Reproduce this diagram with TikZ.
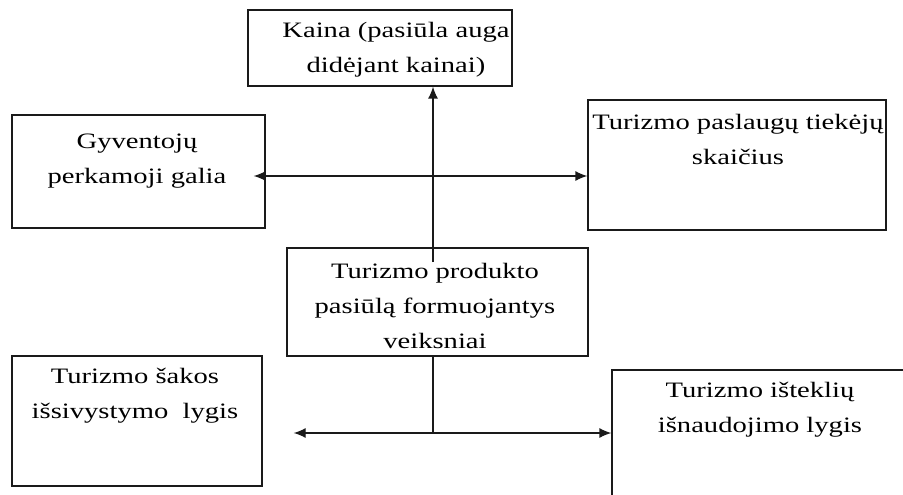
\documentclass[tikz,border=0pt]{standalone}
\usepackage{fontspec}
\usetikzlibrary{arrows.meta, positioning, calc}
\newfontfamily\boxfont[FakeStretch=1.3]{Liberation Serif}
\definecolor{Frame}{HTML}{1A1A1A}

\begin{document}
\begin{tikzpicture}[x=1pt, y=-1pt,
    box/.style={rectangle, draw=Frame, line width=1.3pt, fill=white, inner sep=0pt},
    txt/.style={align=center, anchor=base, inner sep=0pt, font=\boxfont\fontsize{22}{35}\selectfont},
    arrow/.style={-{Latex[length=12pt, width=10pt]}, line width=1.3pt, color=Frame},
    biarrow/.style={{Latex[length=12pt, width=10pt]}-{Latex[length=12pt, width=10pt]}, line width=1.3pt, color=Frame},
    plain/.style={line width=1.3pt, color=Frame}
  ]
  \useasboundingbox (0,0) rectangle (903,495);

  % Boxes
  \node[box, minimum width=264pt, minimum height=76pt] (kaina) at (380,48) {};
  \node[box, minimum width=253pt, minimum height=113pt] (gyv) at (138.5,171.5) {};
  \node[box, minimum width=298pt, minimum height=130pt] (tiek) at (737,165) {};
  \node[box, minimum width=250pt, minimum height=130pt] (sakos) at (137,421) {};
  \node[box, minimum width=308pt, minimum height=140pt] (ist) at (766,440) {};

  % Joints
  \coordinate (hub) at (433,176);
  \coordinate (junc) at (433,433);
  \coordinate (stem) at (433,262);

  % Connections
  \draw[arrow] (stem) -- (stem |- kaina.south);
  \draw[biarrow] ([xshift=-12pt]gyv.east |- hub) -- (tiek.west |- hub);

  % Central box
  \node[box, minimum width=301pt, minimum height=108pt, fill=none] (mid) at (437.5,302) {};
  \draw[plain] (mid.south -| junc) -- (junc);
  \draw[biarrow] ([xshift=31pt]sakos.east |- junc) -- (ist.west |- junc);

  % Texts (anchored on the last line)
  \node[txt] (kainaT) at (396,73) {Kaina (pasiūla auga\\didėjant kainai)};
  \node[txt] (gyvT) at (137,183) {Gyventojų\\perkamoji galia};
  \node[txt] (tiekT) at (738,164) {Turizmo paslaugų tiekėjų\\skaičius};
  \node[txt] (midT) at (435,348) {Turizmo produkto\\pasiūlą formuojantys\\veiksniai};
  \node[txt] (sakosT) at (135,418) {Turizmo šakos\\išsivystymo~ lygis};
  \node[txt] (istT) at (760,432) {Turizmo išteklių\\išnaudojimo lygis};
\end{tikzpicture}
\end{document}
